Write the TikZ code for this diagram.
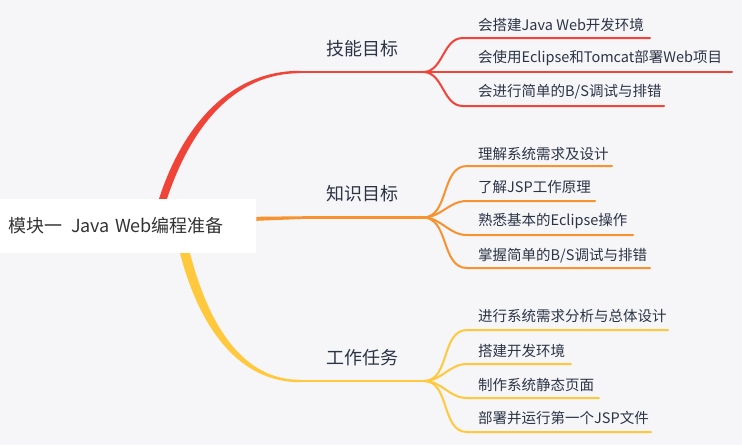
\documentclass[tikz,border=0pt]{standalone}
\usepackage{fontspec}
\setmainfont{Noto Sans CJK SC}
\usetikzlibrary{calc}
\definecolor{bg}{HTML}{F6F6F9}
\definecolor{cred}{HTML}{F04438}
\definecolor{corange}{HTML}{F7922E}
\definecolor{cyellow}{HTML}{FFC83D}
\definecolor{ctext}{HTML}{2B3445}
\definecolor{croot}{HTML}{333333}
\tikzset{
  rootbox/.style={fill=white, draw=none, anchor=west, text width=240pt, inner xsep=8pt, inner ysep=0pt, minimum height=54pt, align=left, font=\fontsize{18}{20}\selectfont, text=croot},
  lbl/.style={font=\fontsize{18}{20}\selectfont, text=ctext, inner sep=0pt},
  leaf/.style={font=\fontsize{14.5}{16}\selectfont, text=ctext, anchor=west, inner sep=0pt},
  twig/.style={line width=2pt, line cap=round},
  stem/.style={line width=2.6pt},
}
\begin{document}
\begin{tikzpicture}[x=1pt,y=-1pt]
\fill[bg] (0,0) rectangle (742,445);
\useasboundingbox (0,0) rectangle (742,445);

% root
\node[rootbox] (root) at (0,226) {模块一\hspace{9pt}Java\hspace{5pt}Web编程准备};

% branch labels
\node[lbl] (skill) at (362,49) {技能目标};
\node[lbl] (know) at (362,194) {知识目标};
\node[lbl] (task) at (362,358) {工作任务};

% coordinates of stems and forks
\coordinate (s1) at (300,72);
\coordinate (f1) at (423,72);
\coordinate (s2) at (306,217.5);
\coordinate (f2) at (423,217.5);
\coordinate (s3) at (300,381);
\coordinate (f3) at (424,381);

% red stem (tapered)
\fill[cred] ($(root.north west)+(159,0)$) .. controls (182,128) and (228,70.8) .. (300,70.8)
  -- (300,73.2) .. controls (232,73.2) and (190,130) .. ($(root.north west)+(167,0)$) -- cycle;
\draw[cred, stem] (s1) -- (f1);

% orange stem
\fill[corange] ($(root.north east)+(0,18)$) -- (306,216.2) -- (306,218.8) -- ($(root.north east)+(0,22)$) -- cycle;
\draw[corange, stem] (s2) -- (f2);

% yellow stem (tapered)
\fill[cyellow] ($(root.south west)+(180,0)$) .. controls (200,330) and (240,382.2) .. (300,382.2)
  -- (300,379.8) .. controls (245,379.8) and (210,330) .. ($(root.south west)+(190,0)$) -- cycle;
\draw[cyellow, stem] (s3) -- (f3);

% red leaves
\node[leaf] (l11) at (478,25) {会搭建Java Web开发环境};
\node[leaf] (l12) at (478,58) {会使用Eclipse和Tomcat部署Web项目};
\node[leaf] (l13) at (478,92) {会进行简单的B/S调试与排错};
\coordinate (b11) at (463,38);  \coordinate (e11) at (650,38);
\coordinate (e12) at (732,72);
\coordinate (b13) at (463,106); \coordinate (e13) at (664,106);
\draw[cred, twig] (f1) to[out=0,in=180] (b11) -- (e11);
\draw[cred, twig] (f1) -- (e12);
\draw[cred, twig] (f1) to[out=0,in=180] (b13) -- (e13);

% orange leaves
\node[leaf] (l21) at (478,154) {理解系统需求及设计};
\node[leaf] (l22) at (478,187) {了解JSP工作原理};
\node[leaf] (l23) at (478,221) {熟悉基本的Eclipse操作};
\node[leaf] (l24) at (478,256) {掌握简单的B/S调试与排错};
\coordinate (b21) at (467,166); \coordinate (e21) at (612,166);
\coordinate (b22) at (467,201); \coordinate (e22) at (595,201);
\coordinate (b23) at (467,235); \coordinate (e23) at (633,235);
\coordinate (b24) at (467,268); \coordinate (e24) at (650,268);
\draw[corange, twig] (f2) to[out=0,in=180] (b21) -- (e21);
\draw[corange, twig] (f2) to[out=0,in=180] (b22) -- (e22);
\draw[corange, twig] (f2) to[out=0,in=180] (b23) -- (e23);
\draw[corange, twig] (f2) to[out=0,in=180] (b24) -- (e24);

% yellow leaves
\node[leaf] (l31) at (478,316) {进行系统需求分析与总体设计};
\node[leaf] (l32) at (478,351) {搭建开发环境};
\node[leaf] (l33) at (478,385) {制作系统静态页面};
\node[leaf] (l34) at (478,418) {部署并运行第一个JSP文件};
\coordinate (b31) at (467,330); \coordinate (e31) at (668,330);
\coordinate (b32) at (467,364); \coordinate (e32) at (571,364);
\coordinate (b33) at (467,398); \coordinate (e33) at (599,398);
\coordinate (b34) at (467,432); \coordinate (e34) at (651,432);
\draw[cyellow, twig] (f3) to[out=0,in=180] (b31) -- (e31);
\draw[cyellow, twig] (f3) to[out=0,in=180] (b32) -- (e32);
\draw[cyellow, twig] (f3) to[out=0,in=180] (b33) -- (e33);
\draw[cyellow, twig] (f3) to[out=0,in=180] (b34) -- (e34);
\end{tikzpicture}
\end{document}
